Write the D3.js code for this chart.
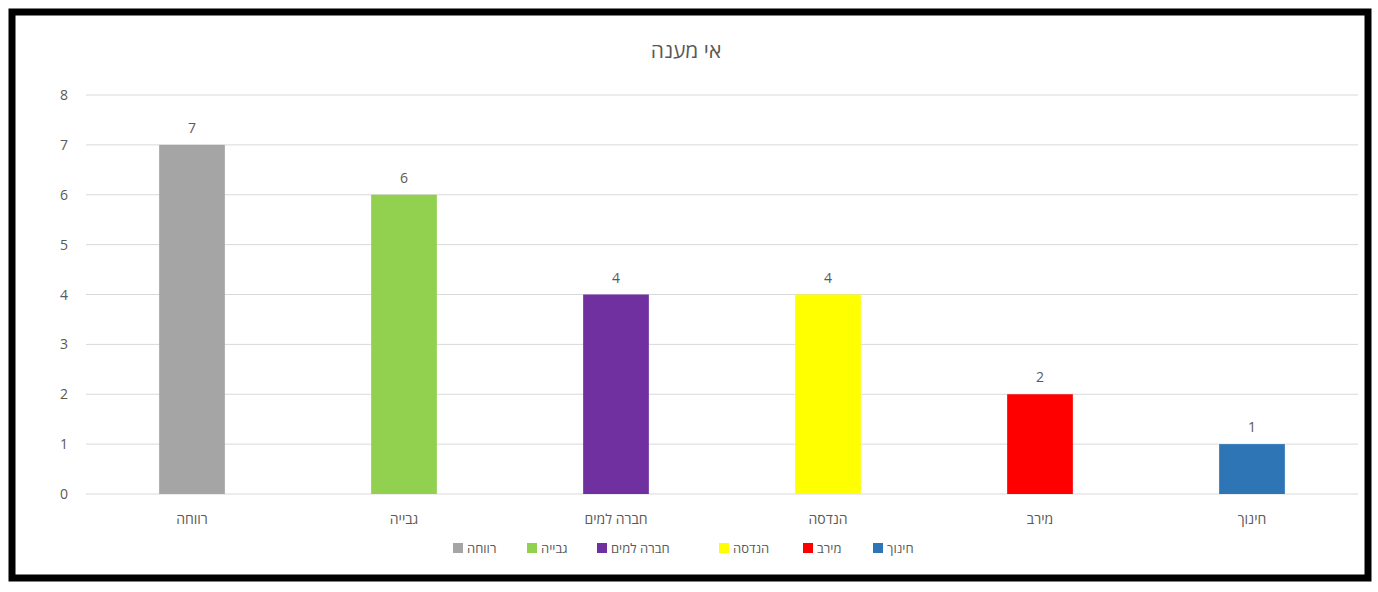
<!DOCTYPE html>
<html><head><meta charset="utf-8">
<script src="https://cdn.jsdelivr.net/npm/d3@7"></script>
<style>body{margin:0;background:#fff;} text{font-family:"Open Sans","Noto Sans",sans-serif;fill:#595959;}</style>
</head><body><div id="plot"></div>
<script>
const categories = ["רווחה", "גבייה", "חברה למים", "הנדסה", "מירב", "חינוך"];
const values = [7, 6, 4, 4, 2, 1];
const colors = ["#a5a5a5", "#92d050", "#7030a0", "#ffff00", "#ff0000", "#2e75b6"];
const yTicks = [0, 1, 2, 3, 4, 5, 6, 7, 8];

const svg = d3.select("#plot").append("svg").attr("width", 1378).attr("height", 592);

// frame
svg.append("rect").attr("x", 12).attr("y", 12).attr("width", 1356).attr("height", 566)
    .attr("fill", "#fff").attr("stroke", "#000").attr("stroke-width", 7);

const x = d3.scaleBand().domain(categories).range([86, 1358]).paddingInner(0.69).paddingOuter(0.345);
const y = d3.scaleLinear().domain([0, 8]).range([494, 95]);

svg.append("text").attr("x", 686).attr("y", 58).attr("text-anchor", "middle")
    .style("font-size", "21px").text("אי מענה");

// grid
svg.selectAll("line.grid").data(yTicks).enter().append("line")
    .attr("x1", 86).attr("x2", 1358)
    .attr("y1", d => y(d)).attr("y2", d => y(d))
    .attr("stroke", "#d9d9d9").attr("stroke-width", 1);

svg.selectAll("text.ytick").data(yTicks).enter().append("text")
    .attr("x", 68).attr("y", d => y(d) + 5).attr("text-anchor", "end")
    .style("font-size", "14px").text(d => d);

svg.selectAll("rect.bar").data(values).enter().append("rect")
    .attr("x", (d, i) => x(categories[i])).attr("width", x.bandwidth())
    .attr("y", d => y(d)).attr("height", d => y(0) - y(d))
    .attr("fill", (d, i) => colors[i]);

svg.selectAll("text.val").data(values).enter().append("text")
    .attr("x", (d, i) => x(categories[i]) + x.bandwidth() / 2).attr("y", d => y(d) - 12)
    .attr("text-anchor", "middle").style("font-size", "14px").text(d => d);

svg.selectAll("text.cat").data(categories).enter().append("text")
    .attr("x", d => x(d) + x.bandwidth() / 2).attr("y", 524)
    .attr("text-anchor", "middle").style("font-size", "14px").text(d => d);

// legend
const lx = [453, 527, 597, 719, 803, 873];
const lg = svg.selectAll("g.leg").data(categories).enter().append("g")
    .attr("transform", (d, i) => `translate(${lx[i]},548)`);
lg.append("rect").attr("x", 0).attr("y", -5).attr("width", 10).attr("height", 10)
    .attr("fill", (d, i) => colors[i]);
lg.append("text").attr("x", 14).attr("y", 5).style("font-size", "13px").text(d => d);
</script></body></html>
